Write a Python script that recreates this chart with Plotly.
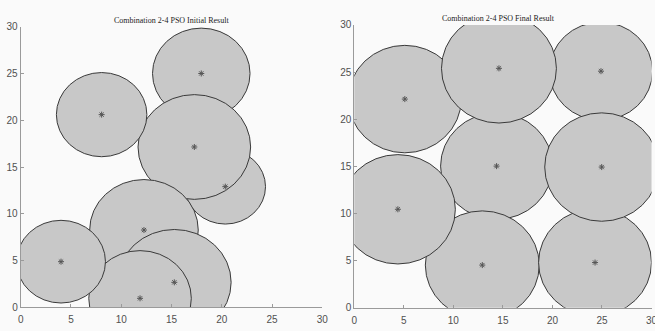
import plotly.graph_objects as go

# ---- data ----
titles = ["Combination 2-4 PSO Initial Result", "Combination 2-4 PSO Final Result"]
tick_vals = [0, 5, 10, 15, 20, 25, 30]
tick_text = ["0", "5", "10", "15", "20", "25", "30"]

# initial result (drawing order)
init_x = [17.96, 20.35, 17.27, 8.05, 12.26, 15.28, 11.87, 4.01]
init_y = [25.0, 12.9, 17.14, 20.6, 8.26, 2.67, 0.96, 4.88]
init_r = [4.85, 4.0, 5.6, 4.5, 5.4, 5.65, 5.1, 4.42]

# final result (drawing order)
final_x = [5.1, 24.9, 14.36, 12.92, 4.4, 14.6, 24.3, 24.97]
final_y = [22.14, 25.1, 15.03, 4.53, 10.45, 25.4, 4.8, 14.93]
final_r = [5.7, 5.2, 5.65, 5.75, 5.8, 5.8, 5.7, 5.75]

FILL = "#c8c8c8"
EDGE = "#3a3a3a"
AXC = "#9a9a9a"

fig = go.Figure()
shapes = []

def add_panel(xs, ys, rs, xa, ya):
    for cx, cy, r in zip(xs, ys, rs):
        shapes.append(dict(type="circle", xref=xa, yref=ya,
                           x0=cx - r, x1=cx + r, y0=cy - r, y1=cy + r,
                           fillcolor=FILL, line=dict(color=EDGE, width=1),
                           layer="below"))
    fig.add_trace(go.Scatter(x=xs, y=ys, mode="markers", xaxis=xa, yaxis=ya,
                             marker=dict(symbol="asterisk-open", size=5, color="#555555",
                                         line=dict(color="#555555", width=1)),
                             showlegend=False, hoverinfo="skip"))

add_panel(init_x, init_y, init_r, "x", "y")
add_panel(final_x, final_y, final_r, "x2", "y2")

axis_common = dict(range=[0, 30], tickvals=tick_vals, ticktext=tick_text,
                   showgrid=False, zeroline=False, showline=True, linecolor=AXC,
                   linewidth=1, ticks="inside", ticklen=3, tickcolor=AXC,
                   tickfont=dict(family="Liberation Sans, Arial, sans-serif",
                                 size=10, color="#505050"),
                   fixedrange=True, automargin=False, ticklabeloverflow="allow")
x_extra = dict(ticklabelstandoff=3)

fig.update_layout(
    width=655, height=331,
    margin=dict(l=0, r=0, t=0, b=0, autoexpand=False),
    paper_bgcolor="#fafafa", plot_bgcolor="#fafafa",
    showlegend=False,
    shapes=shapes,
    xaxis=dict(domain=[0.0316, 0.4921], anchor="y", **axis_common, **x_extra),
    yaxis=dict(domain=[0.0716, 0.9193], anchor="x", **axis_common),
    xaxis2=dict(domain=[0.5409, 0.9947], anchor="y2", **axis_common, **x_extra),
    yaxis2=dict(domain=[0.0701, 0.9245], anchor="x2", **axis_common),
    annotations=[
        dict(text=titles[0], x=171.5 / 655, y=1 - 20 / 331, xref="paper", yref="paper",
             showarrow=False, xanchor="center", yanchor="middle",
             font=dict(family="Liberation Serif, Times New Roman, serif", size=8, color="#222222")),
        dict(text=titles[1], x=498 / 655, y=1 - 18.5 / 331, xref="paper", yref="paper",
             showarrow=False, xanchor="center", yanchor="middle",
             font=dict(family="Liberation Serif, Times New Roman, serif", size=8, color="#222222")),
    ],
)

fig.write_html("out.html", config={"displayModeBar": False, "staticPlot": True})

# remove the browser's default page margin so the figure sits at the window's corner
with open("out.html", "r", encoding="utf-8") as f:
    html = f.read()
html = html.replace("<body>", '<body style="margin:0;padding:0;overflow:hidden;background:#fafafa">', 1)
with open("out.html", "w", encoding="utf-8") as f:
    f.write(html)
